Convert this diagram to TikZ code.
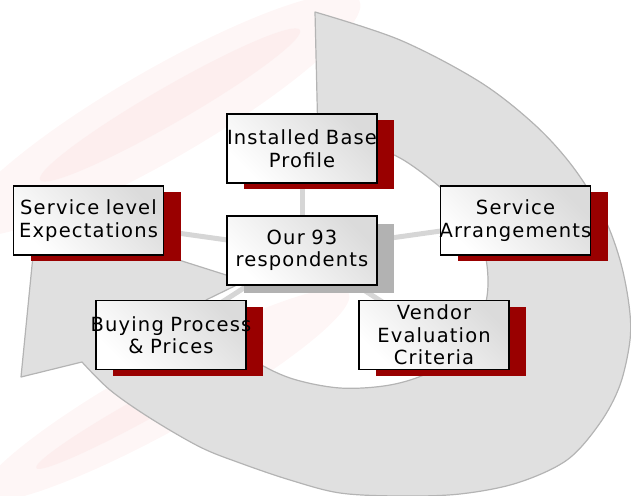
\documentclass[tikz,border=0pt]{standalone}
\usepackage{fontspec}
\setmainfont{DejaVu Sans}[LetterSpace=6]
\usetikzlibrary{shadows,backgrounds}
\definecolor{boxred}{RGB}{153,0,0}
\definecolor{hubgray}{RGB}{178,178,178}
\definecolor{ringfill}{RGB}{224,224,224}
\definecolor{ringedge}{RGB}{180,180,180}
\definecolor{linkgray}{RGB}{214,214,214}
\definecolor{streak}{RGB}{254,246,246}
\definecolor{streakcore}{RGB}{253,238,238}
% one centred line that may run past the card edge
\newcommand\cardline[1]{\makebox[150pt]{#1}}

\begin{document}
\begin{tikzpicture}[x=1pt,y=-1pt,every node/.style={font=\fontsize{19.5}{22.5}\selectfont},
 card/.style={draw=black,line width=1.3pt,minimum width=150pt,minimum height=69pt,text width=150pt,
  inner xsep=0pt,align=center,top color=gray!28,bottom color=white,shading angle=-45},
 box/.style={card,drop shadow={shadow xshift=17pt,shadow yshift=-6pt,fill=boxred,opacity=1}},
 hub/.style={card,drop shadow={shadow xshift=17pt,shadow yshift=-8pt,fill=hubgray,opacity=1}},
 link/.style={draw=linkgray,line width=5pt},
 ring/.style={fill=ringfill,draw=ringedge,line width=1.2pt,line join=round}]
\useasboundingbox (0,0) rectangle (631,495);
\node[hub] (hub) at (302,250.5) {\cardline{Our 93}\\\cardline{respondents}};
\foreach \n/\x/\y/\txt in {inst/302/148.5/{\cardline{Installed Base}\\\cardline{Profile}},
 slev/88.5/220.5/{\cardline{Service level}\\\cardline{Expectations}},
 sarr/515.5/220.5/{\cardline{Service}\\\cardline{Arrangements}},
 buy/171/335/{\cardline{Buying Process}\\\cardline{\& Prices}},
 vend/434/335/{\cardline{Vendor}\\\cardline{Evaluation}\\\cardline{Criteria}}}
 \node[box] (\n) at (\x,\y) {\txt};
\begin{scope}[on background layer]
% faint streaks
\fill[streak,rotate around={30:(160,115)}] (160,115) ellipse [x radius=230,y radius=45];
\fill[streakcore,rotate around={30:(170,105)}] (170,105) ellipse [x radius=150,y radius=18];
\fill[streak,rotate around={29:(165,395)}] (165,395) ellipse [x radius=210,y radius=35];
\fill[streakcore,rotate around={29:(150,405)}] (150,405) ellipse [x radius=130,y radius=12];
% circular arrow behind the boxes
\filldraw[ring] plot[smooth,tension=0.55] coordinates {(315,12) (400,40) (480,82) (535,125) (573,167)
 (603,215) (620,260) (629,305) (630,340) (620,385) (600,423) (567,460) (517,483) (460,494)
 (400,496) (340,493) (290,480) (240,463) (200,447) (150,418) (110,390) (82,362)}
 -- (21,377) -- (37,215) -- (245,281)
 -- plot[smooth,tension=0.55] coordinates {(206,300) (222,333) (250,358) (290,378) (340,388)
 (390,385) (430,372) (462,347) (482,315) (488,285) (484,250) (468,215) (440,187) (400,158)
 (360,143) (318,140)} -- cycle;
\foreach \n in {inst,slev,sarr,buy,vend}
 \draw[link] (hub.center) -- (\n.center);
\end{scope}
\end{tikzpicture}
\end{document}
